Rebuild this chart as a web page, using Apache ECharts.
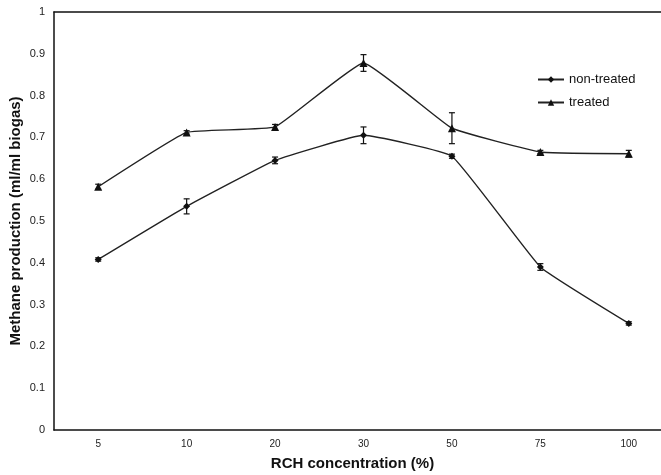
<!DOCTYPE html>
<html><head><meta charset="utf-8">
<script src="https://cdn.jsdelivr.net/npm/echarts@6/dist/echarts.min.js"></script>
<style>html,body{margin:0;padding:0;background:#fff}#c{width:661px;height:475px}</style>
</head><body><div id="c"></div>
<script>
const categories = ['5','10','20','30','50','75','100'];
const nonTreated = [0.408, 0.535, 0.645, 0.705, 0.655, 0.39, 0.255];
const nonTreatedErr = [0.004, 0.018, 0.008, 0.02, 0.005, 0.008, 0.004];
const treated = [0.582, 0.712, 0.725, 0.878, 0.722, 0.665, 0.661];
const treatedErr = [0.006, 0.004, 0.006, 0.02, 0.037, 0.004, 0.008];
const yTicks = [0,0.1,0.2,0.3,0.4,0.5,0.6,0.7,0.8,0.9,1];

function errData(vals, errs){ return vals.map((v,i)=>[i, v-errs[i], v+errs[i]]); }
function errRender(params, api){
  const x = api.value(0);
  const lo = api.coord([x, api.value(1)]);
  const hi = api.coord([x, api.value(2)]);
  const hw = 3;
  const st = {stroke:'#111', lineWidth:1.2};
  return {type:'group', children:[
    {type:'line', shape:{x1:lo[0],y1:lo[1],x2:hi[0],y2:hi[1]}, style:st},
    {type:'line', shape:{x1:lo[0]-hw,y1:lo[1],x2:lo[0]+hw,y2:lo[1]}, style:st},
    {type:'line', shape:{x1:hi[0]-hw,y1:hi[1],x2:hi[0]+hw,y2:hi[1]}, style:st}
  ]};
}
const chart = echarts.init(document.getElementById('c'));
chart.setOption({
  animation:false,
  textStyle:{fontFamily:'Liberation Sans, Arial, sans-serif'},
  grid:{left:54, right:-12, top:12, bottom:45, outerBoundsMode:'none', containLabel:false},
  legend:{
    orient:'vertical', left:532, top:68, itemGap:10, itemWidth:26, itemHeight:8,
    textStyle:{fontSize:13, color:'#111'},
    data:['non-treated','treated']
  },
  xAxis:[{
    type:'category', data:categories, boundaryGap:true,
    axisLine:{lineStyle:{color:'#111', width:1.5}},
    axisTick:{show:false},
    axisLabel:{color:'#222', fontSize:10, margin:9},
    name:'RCH concentration (%)', nameLocation:'middle', nameGap:26,
    nameTextStyle:{fontSize:15, fontWeight:'bold', color:'#111', padding:[0,0,0,-22]}
  },{
    type:'category', data:categories, position:'top',
    axisLine:{show:true, lineStyle:{color:'#111', width:1.5}},
    axisTick:{show:false}, axisLabel:{show:false}
  }],
  yAxis:{
    type:'value', min:0, max:1, interval:0.1,
    axisLine:{show:true, lineStyle:{color:'#111', width:1.5}},
    axisTick:{show:false},
    splitLine:{show:false},
    axisLabel:{color:'#222', fontSize:11, margin:9,
      formatter:v=>{ const t = yTicks.find(k=>Math.abs(k-v)<1e-6); return t===undefined?'':String(t); }},
    name:'Methane production (ml/ml biogas)', nameLocation:'middle', nameGap:31,
    nameMoveOverlap:false,
    nameTextStyle:{fontSize:15, fontWeight:'bold', color:'#111'}
  },
  series:[
    {name:'non-treated', type:'line', data:nonTreated, smooth:0.1,
     symbol:'diamond', symbolSize:7,
     lineStyle:{color:'#222', width:1.4}, itemStyle:{color:'#111'}},
    {name:'treated', type:'line', data:treated, smooth:0.1,
     symbol:'triangle', symbolSize:8,
     lineStyle:{color:'#222', width:1.4}, itemStyle:{color:'#111'}},
    {type:'custom', data:errData(nonTreated, nonTreatedErr), renderItem:errRender, z:5, silent:true},
    {type:'custom', data:errData(treated, treatedErr), renderItem:errRender, z:5, silent:true}
  ]
});
</script></body></html>
